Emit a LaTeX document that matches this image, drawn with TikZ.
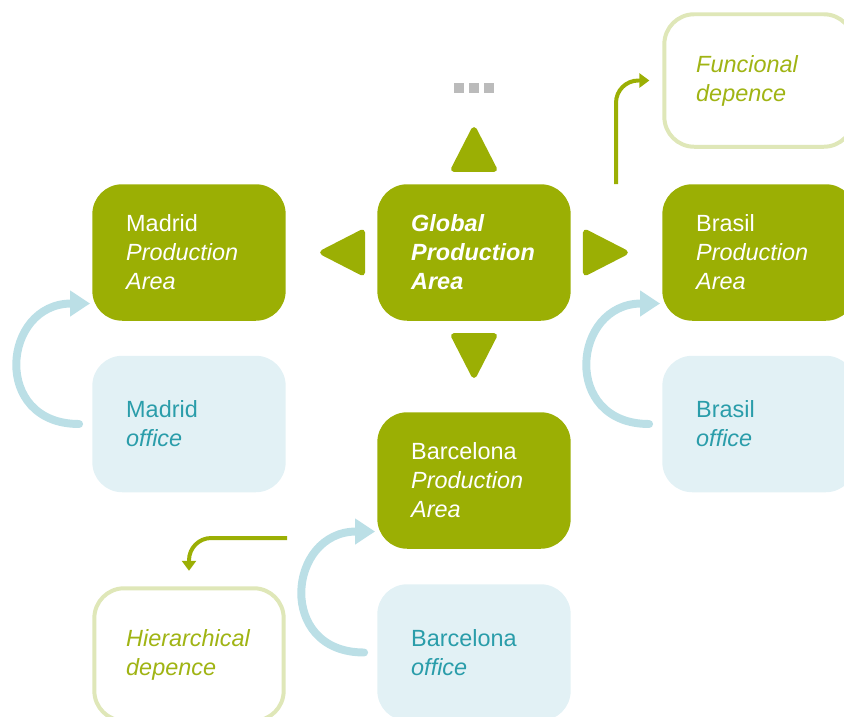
\documentclass[tikz,border=0pt]{standalone}
\usepackage{fontspec}
\setmainfont{Liberation Sans}
\usetikzlibrary{arrows.meta,calc}
\definecolor{oliv}{HTML}{9BAF04}
\definecolor{olivl}{HTML}{DFE7B8}
\definecolor{olivt}{HTML}{A0B414}
\definecolor{eisl}{HTML}{E2F1F5}
\definecolor{eis}{HTML}{BBDFE6}
\definecolor{petrol}{HTML}{2A9DAA}
\definecolor{hgrau}{HTML}{BBBBBB}
\tikzset{
  basebox/.style={rounded corners=25.5pt,minimum width=165pt,minimum height=116.5pt,
    text width=107.2pt,inner xsep=28.9pt,inner ysep=0pt,align=left,
    font=\fontsize{20}{24.75}\selectfont},
  areabox/.style={basebox,fill=oliv,text=white},
  officebox/.style={basebox,fill=eisl,text=petrol},
  depbox/.style={basebox,draw=olivl,line width=3.4pt,fill=white,text=olivt,
    minimum width=161.6pt,minimum height=113.1pt,inner xsep=27.2pt,
    font=\fontsize{20}{24.75}\selectfont\itshape},
  backarr/.style={-{Triangle[length=17pt,width=21pt]},eis,line width=6.8pt,line cap=round},
  deparr/.style={-{Triangle[length=8.5pt,width=12pt]},oliv,line width=3.4pt,rounded corners=19pt},
  pointer/.style={fill=oliv,draw=oliv,line width=5pt,line join=round},
}
\begin{document}
\begin{tikzpicture}[x=0.03cm,y=-0.03cm]
  \useasboundingbox (0,0) rectangle (844,716);
  \clip (0,0) rectangle (844,716);
  % ===== Production areas =====
  \node[areabox] (mpa) at (189,252.5) {Madrid\\\textit{Production}\\\textit{Area}};
  \node[areabox,font=\fontsize{20}{24.75}\selectfont\bfseries\itshape] (gpa) at (474,252.5) {Global\\Production\\Area};
  \node[areabox] (brpa) at (759,252.5) {Brasil\\\textit{Production}\\\textit{Area}};
  \node[areabox] (bpa) at (474,480.5) {Barcelona\\\textit{Production}\\\textit{Area}};
  % ===== offices =====
  \node[officebox] (mo) at (189,424) {Madrid\\\textit{office}};
  \node[officebox] (bro) at (759,424) {Brasil\\\textit{office}};
  \node[officebox] (bo) at (474,652.5) {Barcelona\\\textit{office}};
  % ===== dependences =====
  \node[depbox] (fd) at (759,80.5) {Funcional\\depence};
  \node[depbox] (hd) at (189,654.5) {Hierarchical\\depence};
  % ===== pointers round the global area =====
  \foreach \a/\w in {north/0, west/90, south/180, east/-90}
    \draw[pointer,shift={(gpa.\a)},rotate=\w] (-20,-15) -- (0,-54) -- (20,-15) -- cycle;
  \foreach \i in {-1,0,1}
    \fill[hgrau] ($(gpa.north)+(\i*15-5,-101)$) rectangle +(10,10);
  % ===== office -> production area =====
  \foreach \o/\p in {mo/mpa, bo/bpa, bro/brpa}
    \draw[backarr] ($(\o.west)+(-13,0)$) .. controls +(-88,0) and +(-88,0) .. ($(\p.west)+(-2,51)$);
  % ===== dependence arrows =====
  \coordinate (fstart) at (616,184);
  \coordinate (hstart) at (287,538);
  \draw[deparr] (fstart) |- ($(fd.west)+(-13,0)$);
  \draw[deparr] (hstart) -| ($(hd.north)+(0,-15.5)$);
\end{tikzpicture}
\end{document}
